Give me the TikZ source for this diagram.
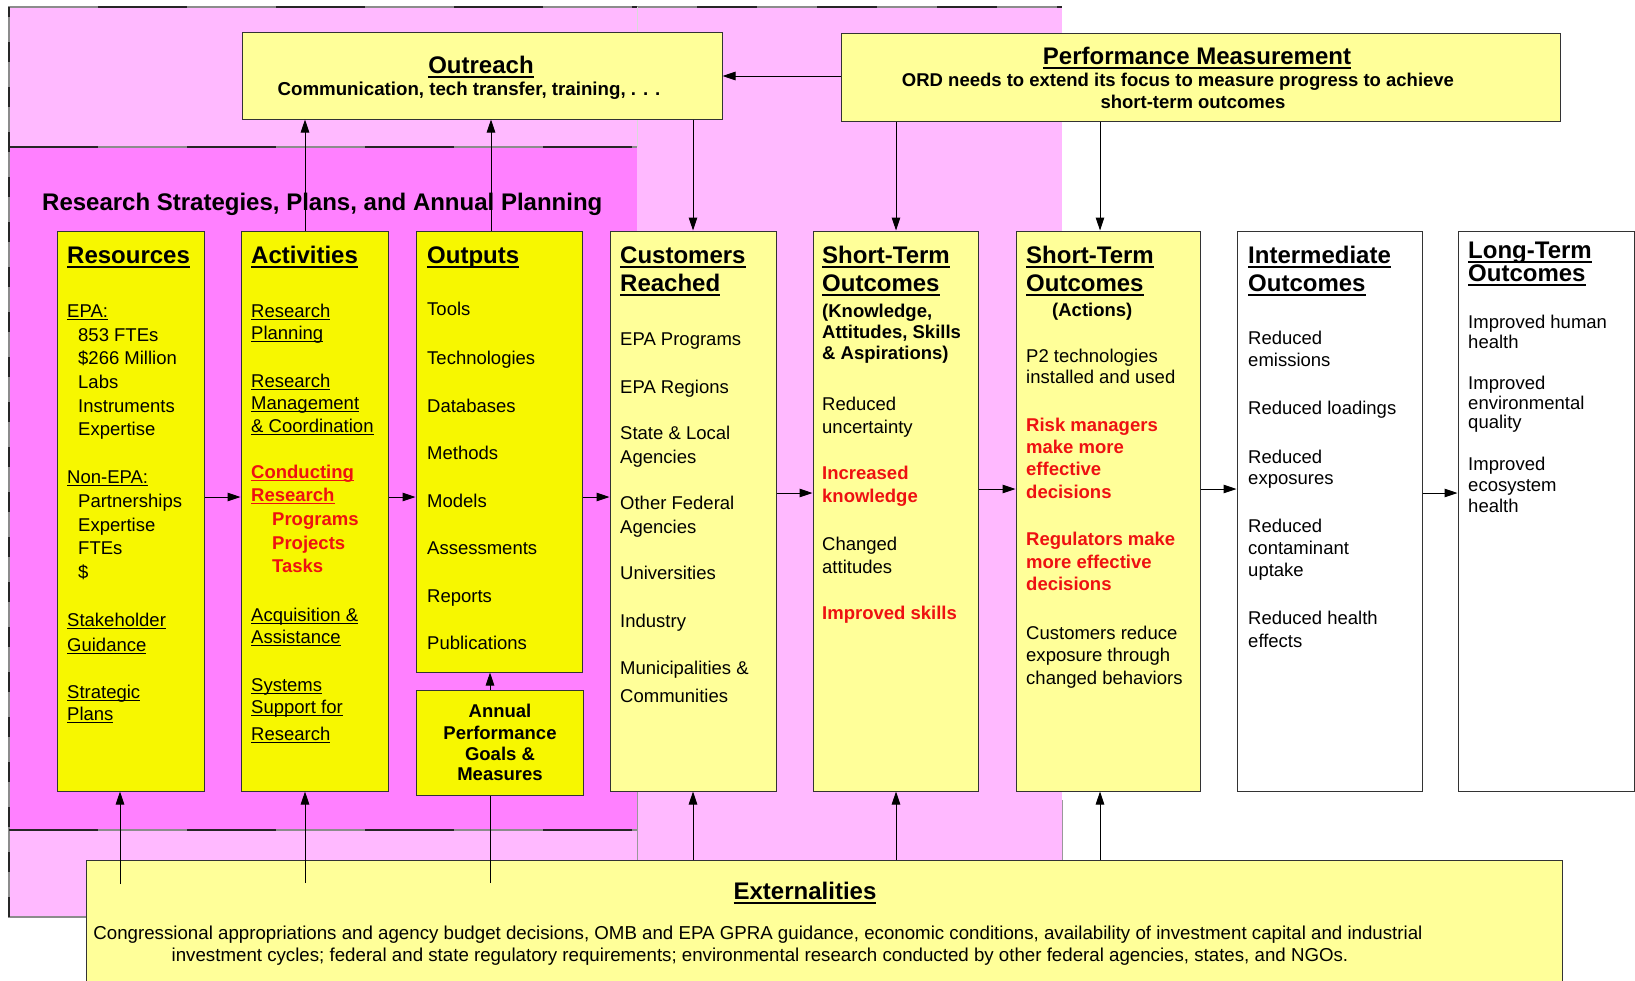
\documentclass[tikz,border=0pt]{standalone}
\usepackage{fontspec}
\setmainfont{Liberation Sans}
\usetikzlibrary{arrows.meta,fit}

\definecolor{pinkL}{HTML}{FFB9FF}
\definecolor{pinkD}{HTML}{FF80FF}
\definecolor{yelB}{HTML}{F7F700}
\definecolor{yelL}{HTML}{FFFF99}
\definecolor{alert}{HTML}{EE1111}

% underlines scaled to the text size
\newcommand{\hul}[1]{\setbox0\hbox{#1}\rlap{\copy0}\rule[-4.2pt]{\wd0}{2pt}}
\newcommand{\bul}[1]{\setbox0\hbox{#1}\rlap{\copy0}\rule[-3pt]{\wd0}{1.3pt}}
\newcommand{\hot}[1]{\textcolor{alert}{\bfseries #1}}
% a column of text lines: name prefix, style, list of x/y/text
\newcommand{\textcol}[3]{\foreach \Lx/\Ly/\Lt [count=\Lk] in {#3} {\node[#2] (#1\Lk) at (\Lx,\Ly) {\Lt};}}

\tikzset{
  boxline/.style={draw=black!80, line width=1pt, inner sep=0pt},
  ybright/.style={boxline, fill=yelB},
  ylight/.style={boxline, fill=yelL},
  wbox/.style={boxline, fill=white},
  txt/.style={inner sep=0pt, anchor=base west, font=\fontsize{18.5pt}{22pt}\selectfont},
  txtc/.style={txt, anchor=base},
  btxt/.style={txt, font=\fontsize{18.5pt}{22pt}\selectfont\bfseries},
  btxtc/.style={btxt, anchor=base},
  hdr/.style={inner sep=0pt, anchor=base west, font=\fontsize{24pt}{28pt}\selectfont\bfseries},
  hdrc/.style={hdr, anchor=base},
  arr/.style={-{Triangle[length=13pt,width=8.5pt]}, line width=1pt},
  link/.style={line width=1pt},
  edge/.style={draw=black!45, line width=1.3pt},
  edgedash/.style={draw=black!85, line width=1.3pt},
}

\begin{document}
\begin{tikzpicture}[x=1pt,y=-1pt]
\useasboundingbox (0,0) rectangle (1635,980);
\fill[white] (0,0) rectangle (1635,980);

% planning panels
\fill[pinkL] (9,7) rectangle (1062,917);
\fill[pinkD] (9,147) rectangle (637,830);
\draw[edge] (86,917) -- (9,917) -- (9,7) -- (1062,7);
\draw[edge] (9,147) -- (637,147);
\draw[edge] (9,830) -- (637,830);
\draw[draw=white!85!black, line width=1pt] (637,7) -- (637,147);
\draw[draw=black!40, line width=1pt] (637,790) -- (637,860);
\draw[draw=black!40, line width=1pt] (1062,800) -- (1062,860);
\draw[edgedash, dash pattern=on 20pt off 25pt] (9,917) -- (9,7);
\draw[edgedash, dash pattern=on 89pt off 89pt, dash phase=89pt] (9,7) -- (637,7);
\draw[edgedash, dash pattern=on 60pt off 60pt, dash phase=60pt] (637,7) -- (1062,7);
\draw[edgedash, dash pattern=on 89pt off 89pt] (9,147) -- (637,147);
\draw[edgedash, dash pattern=on 89pt off 89pt] (9,830) -- (637,830);

\node[hdr, anchor=base west] (plantitle) at (42,210.5) {Research Strategies, Plans, and Annual Planning};

% boxes
\node[ylight, fit={(242,32) (722,119)}] (outreach) {};
\node[ylight, fit={(841,33) (1560,121)}] (perf) {};
\node[ybright, fit={(57,231) (204,791)}] (res) {};
\node[ybright, fit={(241,231) (388,791)}] (act) {};
\node[ybright, fit={(416,231) (582,672)}] (outp) {};
\node[ybright, fit={(416,690) (583,795)}] (annual) {};
\node[ylight, fit={(610,231) (776,791)}] (cust) {};
\node[ylight, fit={(813,231) (978,791)}] (st1) {};
\node[ylight, fit={(1016,231) (1200,791)}] (st2) {};
\node[wbox, fit={(1237,231) (1422,791)}] (inter) {};
\node[wbox, fit={(1458,231) (1634,791)}] (lt) {};
\node[ylight, fit={(86,860) (1562,995)}] (ext) {};

% outreach and performance measurement
\node[hdrc] (outT) at (481,73.5) {\hul{Outreach}};
\node[btxtc, font=\fontsize{18.7pt}{22pt}\selectfont\bfseries] (outS) at (469,95) {Communication, tech transfer, training, . . .};
\node[hdrc] (perfT) at (1197,64.5) {\hul{Performance Measurement}};
\node[btxtc] (perfS1) at (1178,86) {ORD needs to extend its focus to measure progress to achieve};
\node[btxtc] (perfS2) at (1193,108) {short-term outcomes};

% resources
\node[hdr] (resT) at (67,263.5) {\hul{Resources}};
\textcol{res}{txt}{67/317/\bul{EPA:}, 78/341/853 FTEs, 78/364/\$266 Million, 78/388/Labs,
  78/412/Instruments, 78/435/Expertise, 67/483/\bul{Non-EPA:}, 78/507/Partnerships,
  78/531/Expertise, 78/554/FTEs, 78/578/\$, 67/626/\bul{Stakeholder}, 67/651/\bul{Guidance},
  67/698/\bul{Strategic}, 67/720/\bul{Plans}}

% activities
\node[hdr] (actT) at (251,263.5) {\hul{Activities}};
\textcol{act}{txt}{251/317/\bul{Research}, 251/339/\bul{Planning}, 251/387/\bul{Research},
  251/409/\bul{Management}, 251/432/\bul{\& Coordination},
  251/478/\hot{\bul{Conducting}}, 251/501/\hot{\bul{Research}},
  272/525/\hot{Programs}, 272/549/\hot{Projects}, 272/572/\hot{Tasks},
  251/621/\bul{Acquisition \&}, 251/643/\bul{Assistance}, 251/691/\bul{Systems},
  251/713/\bul{Support for}, 251/740/\bul{Research}}

% outputs
\node[hdr] (outpT) at (427,263.5) {\hul{Outputs}};
\textcol{outp}{txt}{427/315/Tools, 427/364/Technologies, 427/412/Databases, 427/459/Methods,
  427/507/Models, 427/554/Assessments, 427/602/Reports, 427/649/Publications}
\textcol{annual}{btxtc}{500/717/Annual, 500/739/Performance, 500/760/Goals \&, 500/780/Measures}

% customers reached
\textcol{custT}{hdr}{620/263.5/\hul{Customers}, 620/291.5/\hul{Reached}}
\textcol{cust}{txt}{620/345/EPA Programs, 620/393/EPA Regions, 620/439/State \& Local,
  620/463/Agencies, 620/509/Other Federal, 620/533/Agencies, 620/579/Universities,
  620/627/Industry, 620/674/Municipalities \&, 620/702/Communities}

% short-term outcomes: knowledge
\textcol{stAT}{hdr}{822/263.5/\hul{Short-Term}, 822/291.5/\hul{Outcomes}}
\textcol{stAS}{btxt}{822/317/{(Knowledge,}, 822/338/{Attitudes, Skills}, 822/359/\& Aspirations)}
\textcol{stA}{txt}{822/410/Reduced, 822/433/uncertainty, 822/479/\hot{Increased},
  822/502/\hot{knowledge}, 822/550/Changed, 822/573/attitudes, 822/619/\hot{Improved skills}}

% short-term outcomes: actions
\textcol{stBT}{hdr}{1026/263.5/\hul{Short-Term}, 1026/291.5/\hul{Outcomes}}
\node[btxt] (stBS) at (1052,316) {(Actions)};
\textcol{stB}{txt}{1026/362/P2 technologies, 1026/383/installed and used,
  1026/431/\hot{Risk managers}, 1026/453/\hot{make more}, 1026/475/\hot{effective},
  1026/498/\hot{decisions}, 1026/545/\hot{Regulators make}, 1026/568/\hot{more effective},
  1026/590/\hot{decisions}, 1026/639/Customers reduce, 1026/661/exposure through,
  1026/684/changed behaviors}

% intermediate outcomes
\textcol{interT}{hdr}{1248/263.5/\hul{Intermediate}, 1248/291.5/\hul{Outcomes}}
\textcol{inter}{txt}{1248/344/Reduced, 1248/366/emissions, 1248/414/Reduced loadings,
  1248/463/Reduced, 1248/484/exposures, 1248/532/Reduced, 1248/554/contaminant,
  1248/576/uptake, 1248/624/Reduced health, 1248/647/effects}

% long-term outcomes
\textcol{ltT}{hdr}{1468/258.5/\hul{Long-Term}, 1468/281.5/\hul{Outcomes}}
\textcol{lt}{txt}{1468/328/Improved human, 1468/348/health, 1468/389/Improved,
  1468/409/environmental, 1468/428/quality, 1468/470/Improved, 1468/491/ecosystem,
  1468/512/health}

% externalities
\node[hdrc] (extT) at (805,899.5) {\hul{Externalities}};
\node[txtc, font=\fontsize{18.7pt}{22pt}\selectfont] (extS1) at (758,939) {Congressional appropriations and agency budget decisions, OMB and EPA GPRA guidance, economic conditions, availability of investment capital and industrial};
\node[txtc, font=\fontsize{18.7pt}{22pt}\selectfont] (extS2) at (760,961) {investment cycles; federal and state regulatory requirements; environmental research conducted by other federal agencies, states, and NGOs.};

% guide coordinates for connectors
\coordinate (vR) at (120,0);
\coordinate (vA) at (305,0);
\coordinate (vB) at (491,0);
\coordinate (vN) at (490,0);
\coordinate (vC) at (693,0);
\coordinate (vD) at (896,0);
\coordinate (vE) at (1100,0);
\coordinate (h76) at (0,76);
\coordinate (h497) at (0,497);
\coordinate (h493) at (0,493);
\coordinate (h489) at (0,489);
\coordinate (eR) at (120,884);
\coordinate (eA) at (305,883);
\coordinate (eN) at (490,883);

% connectors
\draw[arr] (act.north -| vA) -- (outreach.south -| vA);
\draw[arr] (outp.north -| vB) -- (outreach.south -| vB);
\draw[arr] (outreach.south -| vC) -- (cust.north -| vC);
\draw[arr] (perf.west |- h76) -- (outreach.east |- h76);
\draw[arr] (perf.south -| vD) -- (st1.north -| vD);
\draw[arr] (perf.south -| vE) -- (st2.north -| vE);

\draw[arr] (res.east |- h497) -- (act.west |- h497);
\draw[arr] (act.east |- h497) -- (outp.west |- h497);
\draw[arr] (outp.east |- h497) -- (cust.west |- h497);
\draw[arr] (cust.east |- h493) -- (st1.west |- h493);
\draw[arr] (st1.east |- h489) -- (st2.west |- h489);
\draw[arr] (st2.east |- h489) -- (inter.west |- h489);
\draw[arr] (inter.east |- h493) -- (lt.west |- h493);

\draw[arr] (annual.north -| vN) -- (outp.south -| vN);
\draw[arr] (eR) -- (res.south -| eR);
\draw[arr] (eA) -- (act.south -| eA);
\draw[link] (eN) -- (annual.south -| eN);
\draw[arr] (ext.north -| vC) -- (cust.south -| vC);
\draw[arr] (ext.north -| vD) -- (st1.south -| vD);
\draw[arr] (ext.north -| vE) -- (st2.south -| vE);
\end{tikzpicture}
\end{document}
